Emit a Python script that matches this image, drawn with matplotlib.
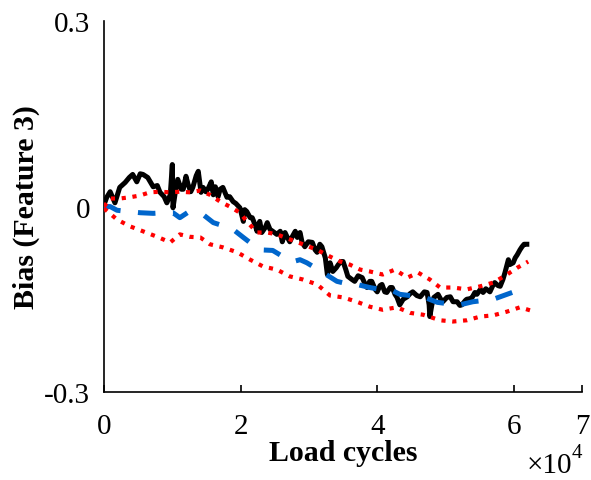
import matplotlib
matplotlib.use("Agg")
import matplotlib.pyplot as plt
from matplotlib.ticker import FuncFormatter
import numpy as np

plt.rcParams["font.family"] = ["Liberation Serif", "DejaVu Serif"]

# Measured bias of feature 3 (load cycles in units of 1e4)
meas_cycles = [0.00, 0.04, 0.09, 0.16, 0.23, 0.31, 0.37, 0.42, 0.48, 0.53, 0.57, 0.64,
               0.72, 0.78, 0.82, 0.88, 0.92, 0.97, 1.00, 1.01, 1.05, 1.08, 1.13, 1.16,
               1.20, 1.23, 1.27, 1.30, 1.35, 1.38, 1.42, 1.45, 1.49, 1.52, 1.57, 1.60,
               1.63, 1.67, 1.70, 1.74, 1.80, 1.84, 1.89, 1.93, 1.99, 2.04, 2.06, 2.09,
               2.14, 2.17, 2.21, 2.24, 2.28, 2.31, 2.36, 2.39, 2.43, 2.47, 2.53, 2.58,
               2.61, 2.65, 2.68, 2.72, 2.75, 2.80, 2.83, 2.87, 2.90, 2.94, 2.99, 3.05,
               3.09, 3.12, 3.16, 3.19, 3.24, 3.27, 3.31, 3.35, 3.40, 3.43, 3.47, 3.50,
               3.54, 3.57, 3.63, 3.67, 3.72, 3.78, 3.82, 3.85, 3.89, 3.92, 3.97, 4.00,
               4.04, 4.07, 4.11, 4.14, 4.19, 4.22, 4.26, 4.29, 4.33, 4.38, 4.44, 4.48,
               4.52, 4.58, 4.63, 4.69, 4.73, 4.76, 4.77, 4.80, 4.83, 4.89, 4.93, 4.96,
               5.02, 5.07, 5.11, 5.17, 5.21, 5.24, 5.29, 5.31, 5.36, 5.39, 5.43, 5.46,
               5.51, 5.55, 5.59, 5.65, 5.70, 5.72, 5.77, 5.80, 5.84, 5.87, 5.90, 5.92,
               5.94, 5.99, 6.02, 6.05, 6.09, 6.12, 6.15, 6.19]
meas_bias = [0.003, 0.015, 0.024, 0.006, 0.031, 0.039, 0.047, 0.052, 0.040, 0.053, 0.052, 0.047,
             0.032, 0.034, 0.023, 0.016, 0.006, 0.019, 0.068, -0.002, 0.028, 0.044, 0.028, 0.028,
             0.049, 0.036, 0.024, 0.031, 0.050, 0.057, 0.023, 0.031, 0.024, 0.028, 0.040, 0.019,
             0.032, 0.016, 0.028, 0.031, 0.015, 0.016, 0.008, 0.005, -0.002, -0.024, -0.005, -0.008,
             -0.018, -0.018, -0.029, -0.040, -0.024, -0.042, -0.034, -0.026, -0.037, -0.040, -0.045, -0.040,
             -0.057, -0.042, -0.049, -0.057, -0.050, -0.040, -0.050, -0.042, -0.058, -0.065, -0.057, -0.058,
             -0.070, -0.074, -0.061, -0.065, -0.083, -0.110, -0.091, -0.105, -0.099, -0.094, -0.089, -0.089,
             -0.102, -0.113, -0.118, -0.121, -0.112, -0.115, -0.125, -0.131, -0.121, -0.121, -0.134, -0.138,
             -0.128, -0.126, -0.138, -0.139, -0.131, -0.131, -0.142, -0.147, -0.159, -0.150, -0.146, -0.141,
             -0.138, -0.144, -0.146, -0.138, -0.139, -0.159, -0.178, -0.159, -0.147, -0.142, -0.150, -0.154,
             -0.147, -0.146, -0.154, -0.154, -0.160, -0.159, -0.152, -0.150, -0.149, -0.147, -0.139, -0.142,
             -0.134, -0.139, -0.133, -0.138, -0.126, -0.123, -0.128, -0.129, -0.118, -0.107, -0.094, -0.086,
             -0.094, -0.091, -0.083, -0.078, -0.070, -0.065, -0.061, -0.061]

# Estimated bias
est_cycles = [0.00, 0.09, 0.19, 0.35, 0.53, 0.72, 0.89, 1.01, 1.11, 1.22, 1.33, 1.45,
              1.60, 1.74, 1.89, 2.04, 2.17, 2.28, 2.47, 2.62, 2.77, 2.87, 2.97, 3.09,
              3.21, 3.41, 3.56, 3.70, 3.89, 4.04, 4.19, 4.33, 4.48, 4.67, 4.88, 5.02,
              5.21, 5.40, 5.55, 5.70, 5.90, 6.05, 6.21]
est_bias = [0.000, 0.000, -0.006, -0.008, -0.010, -0.011, -0.010, -0.010, -0.018, -0.010, -0.010, -0.013,
            -0.026, -0.031, -0.037, -0.050, -0.061, -0.070, -0.071, -0.081, -0.089, -0.086, -0.091, -0.099,
            -0.107, -0.121, -0.125, -0.126, -0.131, -0.134, -0.134, -0.142, -0.144, -0.146, -0.155, -0.157,
            -0.159, -0.154, -0.152, -0.150, -0.142, -0.136, -0.131]

# Upper confidence bound
upper_cycles = [0.00, 0.09, 0.23, 0.38, 0.53, 0.67, 0.82, 0.97, 1.11, 1.26, 1.41, 1.55,
                1.70, 1.84, 1.99, 2.09, 2.24, 2.39, 2.53, 2.72, 2.91, 3.12, 3.31, 3.46,
                3.60, 3.75, 3.89, 4.08, 4.26, 4.44, 4.60, 4.77, 4.92, 5.11, 5.31, 5.51,
                5.70, 5.90, 6.05, 6.21]
upper_bias = [0.000, 0.013, 0.013, 0.015, 0.018, 0.023, 0.024, 0.023, 0.024, 0.023, 0.026, 0.019,
              0.008, 0.000, -0.010, -0.024, -0.042, -0.042, -0.045, -0.053, -0.061, -0.070, -0.081, -0.089,
              -0.094, -0.102, -0.105, -0.110, -0.102, -0.115, -0.107, -0.118, -0.131, -0.131, -0.134, -0.129,
              -0.123, -0.110, -0.099, -0.089]

# Lower confidence bound
lower_cycles = [0.00, 0.19, 0.38, 0.57, 0.78, 0.97, 1.11, 1.26, 1.41, 1.55, 1.74, 1.95,
                2.14, 2.33, 2.53, 2.72, 2.91, 3.12, 3.31, 3.50, 3.70, 3.89, 4.08, 4.29,
                4.48, 4.67, 4.92, 5.11, 5.31, 5.51, 5.70, 5.90, 6.09, 6.24]
lower_bias = [-0.003, -0.021, -0.032, -0.040, -0.049, -0.058, -0.045, -0.049, -0.050, -0.061, -0.066, -0.074,
              -0.086, -0.097, -0.102, -0.113, -0.118, -0.126, -0.144, -0.147, -0.154, -0.162, -0.167, -0.163,
              -0.172, -0.175, -0.184, -0.186, -0.184, -0.178, -0.176, -0.170, -0.163, -0.168]

x_ticks = [0, 2, 4, 6, 7]
y_ticks = [-0.3, 0, 0.3]
y_tick_labels = ["-0.3", "0", "0.3"]

scale = 1e4

fig = plt.figure(figsize=(5.91, 4.81), dpi=100)
ax = fig.add_axes([0.176, 0.183, 0.809, 0.771])

ax.plot(np.array(meas_cycles) * scale, meas_bias, color="black", lw=3.6,
        solid_joinstyle="round", zorder=2)
ax.plot(np.array(est_cycles) * scale, est_bias, color="#0066CC", lw=3.6,
        linestyle=(0, (3.5, 3.5)), zorder=3)
ax.plot(np.array(upper_cycles) * scale, upper_bias, color="#FF0000", lw=3.0,
        linestyle=(0, (1, 1.6)), zorder=4)
ax.plot(np.array(lower_cycles) * scale, lower_bias, color="#FF0000", lw=3.0,
        linestyle=(0, (1, 1.6)), zorder=4)

ax.set_xlim(0, 7 * scale)
ax.set_ylim(-0.3, 0.3)
ax.set_xticks([t * scale for t in x_ticks])
ax.xaxis.set_major_formatter(FuncFormatter(lambda v, p: f"{v / scale:g}"))
ax.set_yticks(y_ticks)
ax.set_yticklabels(y_tick_labels)

for side in ("top", "right"):
    ax.spines[side].set_visible(False)
for side in ("left", "bottom"):
    ax.spines[side].set_linewidth(1.2)

ax.tick_params(axis="both", direction="in", length=5, width=1.2, labelsize=21)
ax.tick_params(axis="x", pad=15)
ax.tick_params(axis="y", length=0, pad=10)

ax.set_xlabel("Load cycles", fontsize=21.5, fontweight="bold", labelpad=0)
ax.set_ylabel("Bias (Feature 3)", fontsize=21.5, fontweight="bold", labelpad=3)

# Exponent marker for the x-axis scale: "×10" with a raised "4"
ax.text(0.979, -0.215, "\u00d710", transform=ax.transAxes,
        ha="right", va="baseline", fontsize=21)
ax.text(0.979, -0.175, "4", transform=ax.transAxes,
        ha="left", va="baseline", fontsize=15)

fig.savefig("out.png", dpi=100)
